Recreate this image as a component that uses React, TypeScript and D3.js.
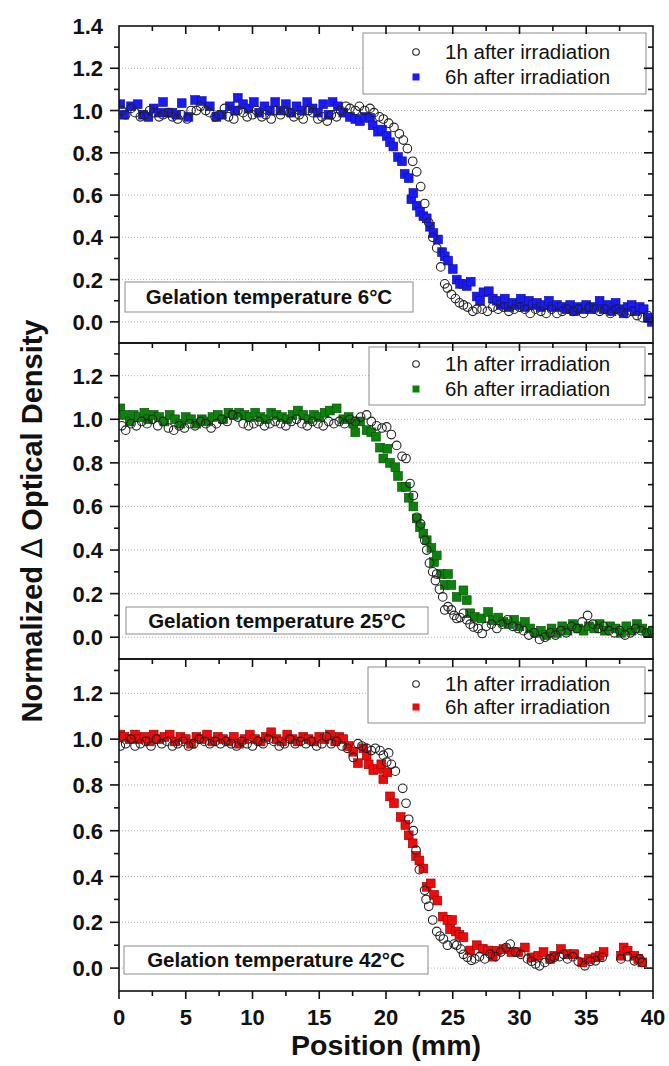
import * as d3 from 'd3';
import { useEffect, useRef } from 'react';

type Pt = [number, number];

const xTicks = [0, 5, 10, 15, 20, 25, 30, 35, 40];
const panelLabels = [
  'Gelation temperature 6°C',
  'Gelation temperature 25°C',
  'Gelation temperature 42°C',
];
const seriesNames = ['1h after irradiation', '6h after irradiation'];
const squareFill = ['#1a1af2', '#0d800d', '#ee0b0b'];
const squareEdge = ['#12129a', '#065006', '#900000'];

// 6 °C
const p6h1: Pt[] = [
  [0.2, 1.0], [0.5, 0.98], [0.9, 1.01], [1.2, 0.99], [1.6, 0.97], [1.9, 0.98], [2.3, 1.0], [2.6, 0.99],
  [3.0, 0.97], [3.3, 0.98], [3.7, 0.99], [4.0, 0.97], [4.4, 0.96], [4.7, 0.98], [5.1, 0.96], [5.4, 1.0],
  [5.8, 1.0], [6.1, 1.02], [6.5, 1.0], [6.8, 0.99], [7.2, 0.97], [7.5, 0.98], [7.9, 1.01], [8.2, 0.97],
  [8.6, 0.96], [8.9, 1.0], [9.3, 0.99], [9.6, 0.97], [10.0, 0.98], [10.3, 1.0], [10.7, 0.97], [11.0, 0.98],
  [11.4, 0.96], [11.7, 1.0], [12.1, 0.98], [12.4, 1.0], [12.8, 0.99], [13.1, 0.97], [13.5, 0.98], [13.8, 0.96],
  [14.2, 1.0], [14.5, 0.99], [14.9, 0.96], [15.2, 0.97], [15.6, 0.95], [15.9, 0.98], [16.3, 0.97], [16.6, 1.0],
  [17.0, 1.02], [17.3, 1.01], [17.7, 1.0], [18.0, 1.02], [18.4, 1.0], [18.8, 1.01], [19.1, 0.99], [19.5, 0.97],
  [19.8, 0.96], [20.2, 0.94], [20.6, 0.92], [21.0, 0.89], [21.3, 0.86], [21.6, 0.82], [22.0, 0.76], [22.3, 0.71],
  [22.6, 0.64], [22.9, 0.56], [23.2, 0.47], [23.5, 0.4], [23.8, 0.35], [24.1, 0.26], [24.4, 0.18], [24.6, 0.16],
  [24.9, 0.13], [25.2, 0.11], [25.5, 0.09], [25.8, 0.08], [26.1, 0.07], [26.5, 0.05], [26.8, 0.06], [27.2, 0.06],
  [27.6, 0.05], [28.0, 0.07], [28.4, 0.06], [28.8, 0.07], [29.2, 0.05], [29.6, 0.06], [30.0, 0.07], [30.4, 0.06],
  [30.8, 0.04], [31.2, 0.06], [31.6, 0.05], [32.0, 0.04], [32.4, 0.06], [32.8, 0.04], [33.2, 0.05], [33.6, 0.06],
  [34.0, 0.05], [34.4, 0.06], [34.8, 0.04], [35.2, 0.07], [35.6, 0.06], [36.0, 0.05], [36.4, 0.06], [36.8, 0.04],
  [37.2, 0.06], [37.6, 0.05], [38.0, 0.04], [38.4, 0.05], [38.8, 0.03], [39.2, 0.02], [39.6, 0.03],
];
const p6h6: Pt[] = [
  [0.1, 1.03], [0.4, 0.98], [0.9, 1.02], [1.4, 1.03], [1.8, 0.98], [2.2, 0.97], [2.6, 1.01], [3.0, 0.99],
  [3.3, 1.04], [3.7, 0.99], [4.0, 0.99], [4.3, 0.98], [4.7, 1.035], [5.2, 0.97], [5.7, 1.05], [6.2, 1.045],
  [6.8, 1.02], [7.3, 0.97], [7.7, 0.98], [8.3, 1.02], [8.7, 1.0], [8.9, 1.06], [9.3, 1.03], [9.7, 1.01],
  [10.1, 1.04], [10.5, 0.99], [10.9, 1.02], [11.3, 1.0], [11.7, 1.04], [12.1, 1.0], [12.5, 1.03], [12.9, 0.99],
  [13.3, 1.02], [13.7, 1.0], [14.1, 1.04], [14.5, 1.01], [14.9, 0.99], [15.3, 1.03], [15.7, 0.98], [16.0, 1.04],
  [16.4, 1.02], [16.8, 0.99], [17.3, 0.97], [17.7, 0.96], [18.05, 0.95], [18.4, 0.97], [18.8, 0.965], [19.0, 0.93],
  [19.4, 0.9], [19.7, 0.91], [20.05, 0.88], [20.3, 0.85], [20.55, 0.83], [20.9, 0.78], [21.2, 0.76], [21.4, 0.7],
  [21.7, 0.68], [21.9, 0.58], [22.05, 0.61], [22.3, 0.55], [22.55, 0.52], [22.8, 0.5], [23.05, 0.49], [23.3, 0.45],
  [23.55, 0.42], [23.9, 0.39], [24.2, 0.33], [24.4, 0.31], [24.65, 0.29], [25.0, 0.25], [25.3, 0.2], [25.55, 0.18],
  [25.8, 0.18], [26.05, 0.17], [26.35, 0.19], [26.8, 0.12], [27.05, 0.1], [27.3, 0.14], [27.7, 0.145], [28.0, 0.11],
  [28.3, 0.1], [28.6, 0.08], [28.9, 0.11], [29.2, 0.07], [29.5, 0.09], [29.8, 0.08], [30.1, 0.11], [30.4, 0.07],
  [30.7, 0.1], [31.0, 0.08], [31.3, 0.09], [31.6, 0.07], [31.9, 0.08], [32.2, 0.1], [32.5, 0.07], [32.8, 0.08],
  [33.2, 0.07], [33.5, 0.06], [33.8, 0.08], [34.1, 0.05], [34.4, 0.07], [34.7, 0.06], [35.0, 0.08], [35.3, 0.06],
  [35.6, 0.07], [36.0, 0.1], [36.3, 0.06], [36.6, 0.08], [36.9, 0.05], [37.2, 0.09], [37.5, 0.06], [37.8, 0.04],
  [38.1, 0.07], [38.4, 0.08], [38.7, 0.05], [39.0, 0.07], [39.3, 0.06], [39.6, 0.02], [39.9, 0.0],
];

// 25 °C
const p25h1: Pt[] = [
  [0.2, 0.97], [0.5, 0.95], [0.9, 0.98], [1.3, 0.97], [1.7, 0.99], [2.1, 0.98], [2.5, 1.0], [2.9, 0.97],
  [3.3, 0.99], [3.7, 0.96], [4.1, 0.95], [4.5, 0.97], [4.9, 0.96], [5.3, 0.98], [5.7, 0.97], [6.1, 0.99],
  [6.5, 0.98], [6.9, 0.96], [7.3, 0.98], [7.7, 1.0], [8.1, 0.99], [8.5, 1.02], [8.9, 1.01], [9.3, 0.98],
  [9.7, 0.97], [10.1, 0.98], [10.5, 0.99], [10.9, 0.97], [11.3, 0.98], [11.7, 0.99], [12.1, 0.98], [12.5, 0.97],
  [12.9, 0.99], [13.3, 1.0], [13.7, 0.98], [14.1, 0.97], [14.5, 0.99], [14.9, 0.98], [15.3, 0.97], [15.7, 0.99],
  [16.1, 0.98], [16.5, 0.99], [16.9, 0.98], [17.3, 1.0], [17.7, 0.99], [18.1, 1.01], [18.55, 1.02], [18.9, 0.99],
  [19.3, 0.97], [19.7, 0.96], [20.05, 0.965], [20.4, 0.93], [20.8, 0.88], [21.2, 0.83], [21.5, 0.82], [21.8, 0.705],
  [22.05, 0.65], [22.3, 0.55], [22.6, 0.52], [22.9, 0.445], [23.05, 0.4], [23.25, 0.34], [23.5, 0.3], [23.7, 0.26],
  [23.8, 0.29], [24.0, 0.22], [24.25, 0.185], [24.4, 0.125], [24.65, 0.14], [24.9, 0.125], [25.1, 0.1], [25.3, 0.086],
  [25.55, 0.09], [25.8, 0.11], [26.05, 0.08], [26.3, 0.06], [26.55, 0.047], [26.9, 0.04], [27.2, 0.017], [27.5, 0.05],
  [27.9, 0.06], [28.3, 0.04], [28.7, 0.06], [29.1, 0.08], [29.5, 0.05], [29.9, 0.04], [30.3, 0.03], [30.7, 0.01],
  [31.1, 0.02], [31.5, -0.01], [31.9, 0.0], [32.3, 0.02], [32.7, 0.01], [33.1, 0.03], [33.5, 0.02], [33.9, 0.05],
  [34.3, 0.04], [34.7, 0.07], [35.1, 0.1], [35.5, 0.06], [35.9, 0.04], [36.3, 0.05], [36.7, 0.03], [37.1, 0.02],
  [37.5, 0.03], [37.9, 0.01], [38.3, 0.02], [38.7, 0.04], [39.1, 0.03], [39.5, 0.02], [39.9, 0.03],
];
const p25h6: Pt[] = [
  [0.1, 1.05], [0.4, 1.02], [0.8, 0.99], [1.1, 1.02], [1.5, 1.01], [1.9, 1.03], [2.2, 1.0], [2.6, 1.02],
  [3.0, 1.01], [3.4, 0.99], [3.8, 1.02], [4.2, 1.0], [4.6, 0.98], [5.0, 1.01], [5.4, 1.0], [5.8, 0.98],
  [6.2, 1.0], [6.6, 0.99], [7.0, 1.01], [7.4, 1.02], [7.8, 1.0], [8.2, 1.03], [8.6, 1.02], [9.0, 1.03],
  [9.4, 1.02], [9.8, 1.01], [10.2, 1.03], [10.6, 1.01], [11.0, 1.0], [11.4, 1.03], [11.8, 1.02], [12.2, 1.01],
  [12.6, 1.0], [13.0, 1.02], [13.4, 1.04], [13.8, 1.02], [14.2, 1.0], [14.6, 1.02], [15.0, 1.01], [15.4, 1.03],
  [15.8, 1.04], [16.3, 1.05], [16.8, 1.0], [17.2, 1.01], [17.55, 0.98], [17.7, 0.94], [18.05, 0.99], [18.55, 0.95],
  [18.9, 0.94], [19.25, 0.92], [19.55, 0.87], [19.8, 0.82], [20.1, 0.865], [20.3, 0.8], [20.7, 0.78], [20.9, 0.74],
  [21.2, 0.69], [21.5, 0.69], [21.7, 0.64], [22.05, 0.6], [22.3, 0.545], [22.55, 0.505], [22.8, 0.475], [23.05, 0.445],
  [23.4, 0.41], [23.6, 0.345], [23.8, 0.375], [24.15, 0.29], [24.4, 0.24], [24.65, 0.29], [24.9, 0.24], [25.3, 0.185],
  [25.8, 0.215], [26.05, 0.17], [26.3, 0.11], [26.65, 0.093], [27.15, 0.086], [27.65, 0.116], [28.0, 0.078], [28.4, 0.09],
  [28.8, 0.07], [29.2, 0.06], [29.6, 0.08], [30.0, 0.05], [30.4, 0.07], [30.8, 0.04], [31.2, 0.02], [31.6, 0.03],
  [32.0, 0.01], [32.4, 0.04], [32.8, 0.02], [33.2, 0.05], [33.6, 0.03], [34.0, 0.06], [34.4, 0.04], [34.8, 0.03],
  [35.2, 0.05], [35.6, 0.04], [36.0, 0.06], [36.4, 0.03], [36.8, 0.05], [37.2, 0.04], [37.6, 0.02], [38.0, 0.05],
  [38.4, 0.03], [38.8, 0.06], [39.2, 0.04], [39.6, 0.02], [40.0, 0.03],
];

// 42 °C
const p42h1: Pt[] = [
  [0.1, 0.97], [0.5, 0.98], [0.9, 1.0], [1.2, 0.97], [1.6, 0.98], [2.0, 0.99], [2.4, 0.97], [2.8, 1.0],
  [3.2, 0.98], [3.6, 0.99], [4.0, 0.97], [4.4, 0.98], [4.8, 0.99], [5.2, 0.97], [5.6, 0.98], [6.0, 1.0],
  [6.4, 0.99], [6.8, 0.98], [7.2, 0.99], [7.6, 0.98], [8.0, 0.99], [8.4, 0.98], [8.8, 0.97], [9.2, 0.99],
  [9.6, 0.98], [10.0, 0.97], [10.4, 0.99], [10.8, 0.98], [11.2, 1.0], [11.6, 0.99], [12.0, 0.97], [12.4, 0.98],
  [12.8, 1.0], [13.2, 0.98], [13.6, 0.99], [14.0, 0.98], [14.4, 0.99], [14.8, 0.97], [15.2, 0.98], [15.55, 1.01],
  [15.9, 0.98], [16.3, 0.99], [16.7, 0.97], [17.1, 0.96], [17.55, 0.92], [17.9, 0.98], [18.2, 0.97], [18.55, 0.96],
  [18.9, 0.95], [19.2, 0.96], [19.55, 0.95], [19.8, 0.93], [20.05, 0.9], [20.2, 0.94], [20.4, 0.89], [20.7, 0.86],
  [21.25, 0.785], [21.5, 0.72], [21.7, 0.65], [22.05, 0.6], [22.25, 0.515], [22.5, 0.43], [22.9, 0.34], [23.0, 0.3],
  [23.2, 0.27], [23.5, 0.21], [23.8, 0.16], [24.05, 0.14], [24.3, 0.127], [24.6, 0.1], [25.1, 0.105], [25.3, 0.1],
  [25.6, 0.083], [25.8, 0.06], [26.1, 0.047], [26.4, 0.034], [26.65, 0.04], [27.0, 0.05], [27.4, 0.04], [27.8, 0.061],
  [28.2, 0.05], [28.6, 0.07], [29.0, 0.09], [29.3, 0.105], [29.7, 0.07], [30.1, 0.06], [30.6, 0.04], [30.9, 0.03],
  [31.2, 0.018], [31.5, 0.01], [31.9, 0.025], [32.3, 0.04], [32.6, 0.047], [33.0, 0.05], [33.3, 0.06], [33.6, 0.04],
  [34.0, 0.05], [34.4, 0.03], [34.9, 0.01], [35.3, 0.03], [35.7, 0.032], [36.2, 0.047], [37.6, 0.04], [38.1, 0.05],
  [38.6, 0.032], [39.0, 0.04], [39.2, 0.025],
];
const p42h6: Pt[] = [
  [0.1, 1.02], [0.4, 1.01], [0.8, 1.0], [1.2, 1.02], [1.5, 1.0], [1.9, 1.01], [2.3, 0.99], [2.6, 1.02],
  [3.0, 1.0], [3.4, 1.01], [3.8, 1.02], [4.2, 0.99], [4.6, 1.01], [5.0, 1.0], [5.4, 0.98], [5.8, 1.01],
  [6.2, 1.0], [6.6, 1.02], [7.0, 0.99], [7.4, 1.01], [7.8, 1.0], [8.2, 0.99], [8.6, 1.01], [9.0, 0.98],
  [9.4, 1.0], [9.8, 1.02], [10.2, 1.0], [10.6, 0.99], [11.0, 1.01], [11.4, 1.03], [11.8, 1.0], [12.2, 0.99],
  [12.6, 1.02], [13.0, 1.0], [13.4, 0.99], [13.8, 1.01], [14.2, 1.0], [14.6, 0.99], [15.0, 1.01], [15.4, 1.0],
  [15.8, 1.02], [16.2, 0.99], [16.5, 1.01], [16.8, 1.0], [17.2, 0.97], [17.55, 0.945], [17.9, 0.895], [18.3, 0.96],
  [18.55, 0.93], [18.7, 0.89], [19.05, 0.865], [19.4, 0.87], [19.65, 0.89], [19.8, 0.825], [20.1, 0.855], [20.3, 0.75],
  [20.6, 0.72], [21.1, 0.66], [21.45, 0.625], [21.7, 0.58], [22.0, 0.545], [22.25, 0.49], [22.5, 0.47], [22.8, 0.435],
  [23.05, 0.355], [23.35, 0.37], [23.6, 0.32], [23.85, 0.295], [24.25, 0.225], [24.6, 0.21], [24.8, 0.17], [24.95, 0.21],
  [25.25, 0.16], [25.5, 0.145], [25.8, 0.135], [26.3, 0.077], [26.8, 0.1], [27.25, 0.085], [27.65, 0.077], [28.0, 0.05],
  [28.3, 0.076], [28.8, 0.083], [29.4, 0.07], [29.9, 0.07], [30.4, 0.09], [30.9, 0.047], [31.4, 0.054], [31.8, 0.07],
  [32.3, 0.04], [32.6, 0.054], [33.1, 0.083], [33.6, 0.061], [34.1, 0.061], [34.7, 0.025], [35.2, 0.04], [35.7, 0.047],
  [36.0, 0.054], [36.3, 0.07], [37.6, 0.054], [37.8, 0.09], [38.1, 0.076], [38.6, 0.054], [38.9, 0.04], [39.2, 0.025],
];

const oneHour = [p6h1, p25h1, p42h1];
const sixHour = [p6h6, p25h6, p42h6];

const W = 669;
const H = 1066;
const FONT = "'Liberation Sans', Arial, sans-serif";

const panels = [
  { top: 26, bottom: 343, yMax: 1.4, tickMax: 1.4, leg: { x: 363, y: 33, w: 283, h: 61, r1: 52, r2: 77 }, box: { x: 125, y: 282, w: 288, h: 30 } },
  { top: 343, bottom: 659, yMax: 1.35, tickMax: 1.2, leg: { x: 369, y: 347, w: 276, h: 58, r1: 364, r2: 389 }, box: { x: 126, y: 607, w: 302, h: 27 } },
  { top: 659, bottom: 991, yMax: 1.35, tickMax: 1.2, leg: { x: 368, y: 667, w: 277, h: 56, r1: 684, r2: 707 }, box: { x: 124, y: 946, w: 304, h: 28 } },
];

export default function App() {
  const svgRef = useRef<SVGSVGElement>(null);

  useEffect(() => {
    if (!svgRef.current) return;
    const svg = d3.select(svgRef.current);
    svg.selectAll('*').remove();

    const x = d3.scaleLinear().domain([0, 40]).range([119, 653]);
    const majorX = xTicks;
    const minorX = d3.range(2.5, 40, 5);

    panels.forEach((p, i) => {
      const y = d3.scaleLinear().domain([-0.1, p.yMax]).range([p.bottom, p.top]);
      const g = svg.append('g');
      const majorY = d3.range(0, p.tickMax + 0.001, 0.2);
      const minorY = d3.range(-0.1, p.yMax, 0.2).filter((v) => v > -0.1);

      // dotted grid
      g.selectAll('line.grid')
        .data(majorY.filter((v) => y(v) > p.top + 1))
        .join('line')
        .attr('x1', x(0))
        .attr('x2', x(40))
        .attr('y1', (d) => y(d))
        .attr('y2', (d) => y(d))
        .attr('stroke', '#b4b4b4')
        .attr('stroke-width', 1)
        .attr('stroke-dasharray', '1,2');

      // gelation temp box
      g.append('rect')
        .attr('x', p.box.x)
        .attr('y', p.box.y)
        .attr('width', p.box.w)
        .attr('height', p.box.h)
        .attr('fill', '#fff')
        .attr('stroke', '#8c8c8c');
      g.append('text')
        .attr('x', p.box.x + p.box.w / 2)
        .attr('y', p.box.y + p.box.h / 2 + 7)
        .attr('text-anchor', 'middle')
        .attr('font-family', FONT)
        .attr('font-weight', 'bold')
        .attr('font-size', 20.5)
        .attr('fill', '#111')
        .text(panelLabels[i]);

      // legend box
      g.append('rect')
        .attr('x', p.leg.x)
        .attr('y', p.leg.y)
        .attr('width', p.leg.w)
        .attr('height', p.leg.h)
        .attr('fill', '#fff')
        .attr('stroke', '#8c8c8c');

      const clipId = `clip${i}`;
      svg
        .append('clipPath')
        .attr('id', clipId)
        .append('rect')
        .attr('x', x(0))
        .attr('y', p.top)
        .attr('width', x(40) - x(0))
        .attr('height', p.bottom - p.top);
      const data = g.append('g').attr('clip-path', `url(#${clipId})`);

      const s = 8.8;
      data
        .selectAll('rect')
        .data(sixHour[i])
        .join('rect')
        .attr('x', (d) => x(d[0]) - s / 2)
        .attr('y', (d) => y(d[1]) - s / 2)
        .attr('width', s)
        .attr('height', s)
        .attr('fill', squareFill[i])
        .attr('stroke', squareEdge[i])
        .attr('stroke-width', 0.6);
      data
        .selectAll('circle')
        .data(oneHour[i])
        .join('circle')
        .attr('cx', (d) => x(d[0]))
        .attr('cy', (d) => y(d[1]))
        .attr('r', 4.3)
        .attr('fill', 'none')
        .attr('stroke', '#222')
        .attr('stroke-width', 1.1);

      // legend entries
      const lx = 416;
      g.append('circle')
        .attr('cx', lx)
        .attr('cy', p.leg.r1)
        .attr('r', 3.3)
        .attr('fill', 'none')
        .attr('stroke', '#222')
        .attr('stroke-width', 1.1);
      g.append('rect')
        .attr('x', lx - 3.5)
        .attr('y', p.leg.r2 - 3.5)
        .attr('width', 7)
        .attr('height', 7)
        .attr('fill', squareFill[i]);
      [p.leg.r1, p.leg.r2].forEach((ry, k) => {
        g.append('text')
          .attr('x', 445)
          .attr('y', ry + 7)
          .attr('font-family', FONT)
          .attr('font-size', 20.5)
          .attr('fill', '#111')
          .text(seriesNames[k]);
      });

      // frame
      g.append('rect')
        .attr('x', x(0))
        .attr('y', p.top)
        .attr('width', x(40) - x(0))
        .attr('height', p.bottom - p.top)
        .attr('fill', 'none')
        .attr('stroke', '#111')
        .attr('stroke-width', 1.6);

      // left ticks (outward) and right ticks (inward)
      const tk = (vals: number[], len: number) => {
        g.selectAll(null)
          .data(vals)
          .join('line')
          .attr('x1', x(0) - len)
          .attr('x2', x(0))
          .attr('y1', (d) => y(d))
          .attr('y2', (d) => y(d))
          .attr('stroke', '#111')
          .attr('stroke-width', 1.6);
        g.selectAll(null)
          .data(vals)
          .join('line')
          .attr('x1', x(40) - len)
          .attr('x2', x(40))
          .attr('y1', (d) => y(d))
          .attr('y2', (d) => y(d))
          .attr('stroke', '#111')
          .attr('stroke-width', 1.6);
      };
      tk(majorY.filter((v) => y(v) > p.top + 1), 9);
      tk(minorY, 5);

      // top ticks (inward)
      const topTk = (vals: number[], len: number) =>
        g.selectAll(null)
          .data(vals)
          .join('line')
          .attr('x1', (d) => x(d))
          .attr('x2', (d) => x(d))
          .attr('y1', p.top)
          .attr('y2', p.top + len)
          .attr('stroke', '#111')
          .attr('stroke-width', 1.6);
      topTk(majorX.slice(1, -1), 8);
      topTk(minorX, 5);

      g.selectAll('text.ytick')
        .data(majorY)
        .join('text')
        .attr('x', 103)
        .attr('y', (d) => y(d) + 8)
        .attr('text-anchor', 'end')
        .attr('font-family', FONT)
        .attr('font-weight', 'bold')
        .attr('font-size', 22)
        .attr('fill', '#111')
        .text((d) => d3.format('.1f')(d));

      if (i === panels.length - 1) {
        const botTk = (vals: number[], len: number) =>
          g.selectAll(null)
            .data(vals)
            .join('line')
            .attr('x1', (d) => x(d))
            .attr('x2', (d) => x(d))
            .attr('y1', p.bottom)
            .attr('y2', p.bottom + len)
            .attr('stroke', '#111')
            .attr('stroke-width', 1.6);
        botTk(majorX, 8);
        botTk(minorX, 5);
        g.selectAll('text.xtick')
          .data(majorX)
          .join('text')
          .attr('x', (d) => x(d))
          .attr('y', p.bottom + 34)
          .attr('text-anchor', 'middle')
          .attr('font-family', FONT)
          .attr('font-weight', 'bold')
          .attr('font-size', 22)
          .attr('fill', '#111')
          .text((d) => d);
      }
    });

    svg
      .append('text')
      .attr('x', (x(0) + x(40)) / 2)
      .attr('y', 1055)
      .attr('text-anchor', 'middle')
      .attr('font-family', FONT)
      .attr('font-weight', 'bold')
      .attr('font-size', 28.5)
      .attr('fill', '#111')
      .text('Position (mm)');

    const yTitle = svg
      .append('text')
      .attr('transform', 'translate(42,521) rotate(-90)')
      .attr('text-anchor', 'middle')
      .attr('font-family', FONT)
      .attr('font-weight', 'bold')
      .attr('font-size', 29)
      .attr('fill', '#111');
    yTitle.append('tspan').text('Normalized ');
    yTitle
      .append('tspan')
      .attr('font-family', "'DejaVu Sans', sans-serif")
      .attr('font-weight', 'normal')
      .text('\u2206');
    yTitle.append('tspan').text(' Optical Density');
  }, []);

  return (
    <svg
      ref={svgRef}
      width={W}
      height={H}
      viewBox={`0 0 ${W} ${H}`}
      style={{ position: 'absolute', left: 0, top: 0, background: '#fff' }}
    />
  );
}
